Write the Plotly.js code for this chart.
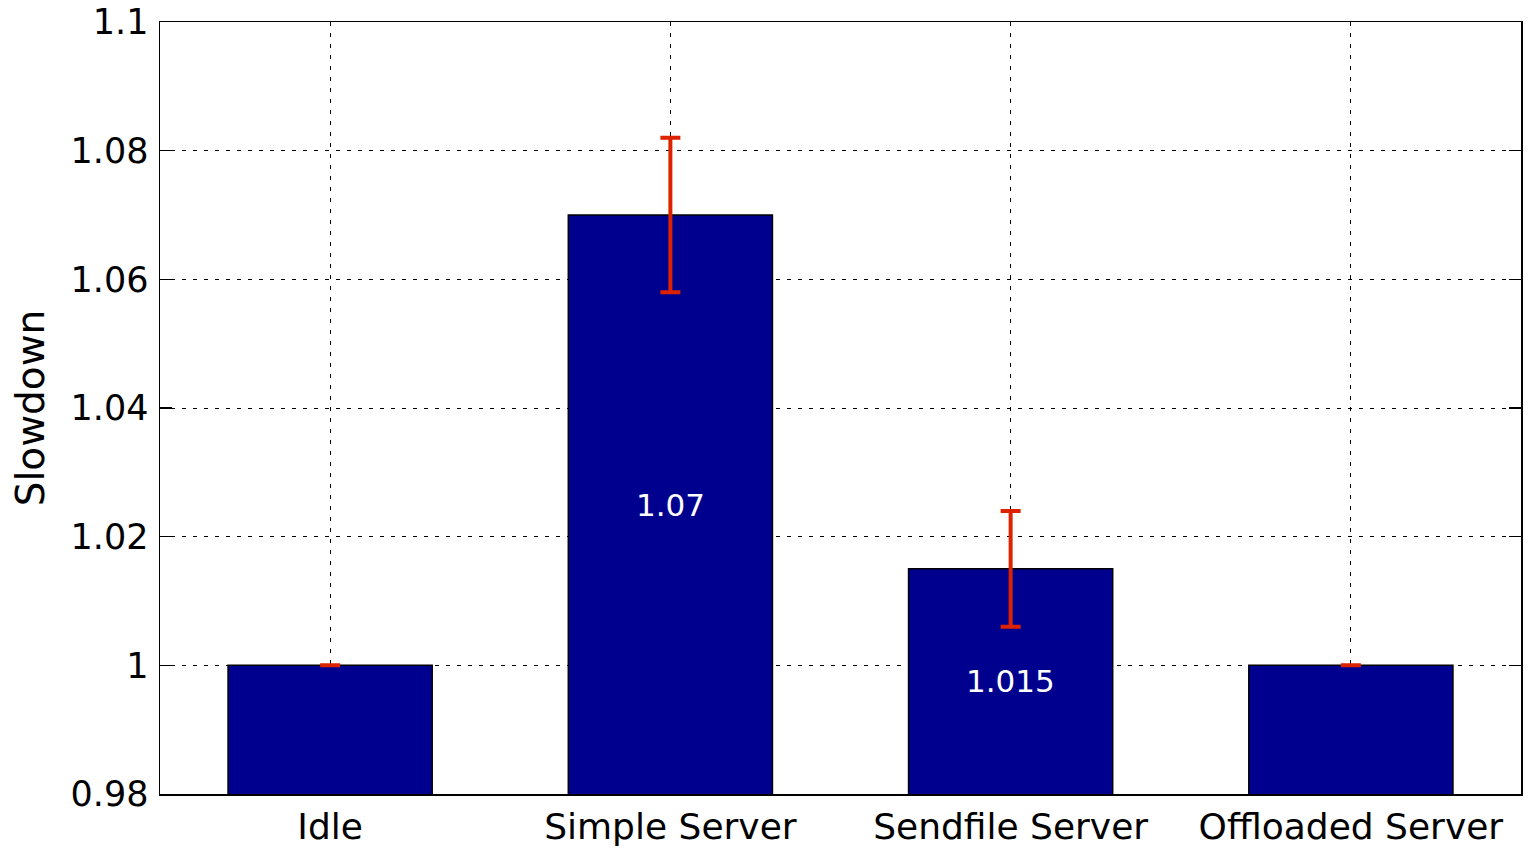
<!DOCTYPE html>
<html>
<head>
<meta charset="utf-8">
<script src="https://cdn.plot.ly/plotly-3.0.1.min.js"></script>
<style>
  html, body { margin: 0; padding: 0; background: #fff; }
  #chart { width: 1529px; height: 849px; }
</style>
</head>
<body>
<div id="chart"></div>
<script>
// Slowdown per server configuration, with error bars
const categories = ['Idle', 'Simple Server', 'Sendfile Server', 'Offloaded Server'];
const slowdown = [1, 1.07, 1.015, 1];
const errorHalf = [0, 0.012, 0.009, 0];
const yTicks = [0.98, 1, 1.02, 1.04, 1.06, 1.08, 1.1];
const yTickText = ['0.98', '1', '1.02', '1.04', '1.06', '1.08', '1.1'];
const yMin = 0.98, yMax = 1.1;

const FONT = 'DejaVu Sans, Liberation Sans, Arial, sans-serif';

const bars = {
  type: 'bar',
  x: [0, 1, 2, 3],
  y: slowdown,
  width: 0.6,
  marker: { color: '#00008F', line: { color: '#000000', width: 1.5 } },
  error_y: {
    type: 'data',
    array: errorHalf,
    visible: true,
    color: '#DD2200',
    thickness: 4,
    width: 10
  },
  hoverinfo: 'x+y'
};

// value labels centred in the visible part of the bars that differ from 1
const labels = slowdown
  .map((v, i) => ({ v, i }))
  .filter(d => d.v !== 1)
  .map(d => ({
    x: d.i,
    y: (d.v + yMin) / 2,
    xref: 'x', yref: 'y',
    text: String(d.v),
    showarrow: false,
    font: { family: FONT, size: 31, color: '#ffffff' }
  }));

const layout = {
  width: 1529,
  height: 849,
  margin: { l: 160, r: 8, t: 22, b: 55 },
  paper_bgcolor: '#ffffff',
  plot_bgcolor: '#ffffff',
  showlegend: false,
  font: { family: FONT, size: 34, color: '#000000' },
  xaxis: {
    range: [-0.5, 3.5],
    tickvals: [0, 1, 2, 3],
    ticktext: categories,
    showgrid: true,
    gridcolor: '#000000',
    gridwidth: 1,
    griddash: '4px,7px',
    zeroline: false,
    showline: true,
    linecolor: '#000000',
    linewidth: 1.5,
    mirror: true,
    ticks: '',
    ticklabelstandoff: 0,
    tickfont: { family: FONT, size: 36, color: '#000000' },
    automargin: false,
    fixedrange: true
  },
  yaxis: {
    range: [yMin, yMax],
    tickvals: yTicks,
    ticktext: yTickText,
    showgrid: true,
    gridcolor: '#000000',
    gridwidth: 1,
    griddash: '4px,7px',
    zeroline: false,
    showline: true,
    linecolor: '#000000',
    linewidth: 1.5,
    mirror: 'ticks',
    ticks: 'inside',
    ticklen: 12,
    tickwidth: 1.5,
    tickcolor: '#000000',
    ticklabelstandoff: 3,
    tickfont: { family: FONT, size: 35, color: '#000000' },
    title: { text: 'Slowdown', font: { family: FONT, size: 39, color: '#000000' }, standoff: 14 },
    automargin: false,
    fixedrange: true
  },
  annotations: labels
};

Plotly.newPlot('chart', [bars], layout, { displayModeBar: false, staticPlot: true });
</script>
</body>
</html>
